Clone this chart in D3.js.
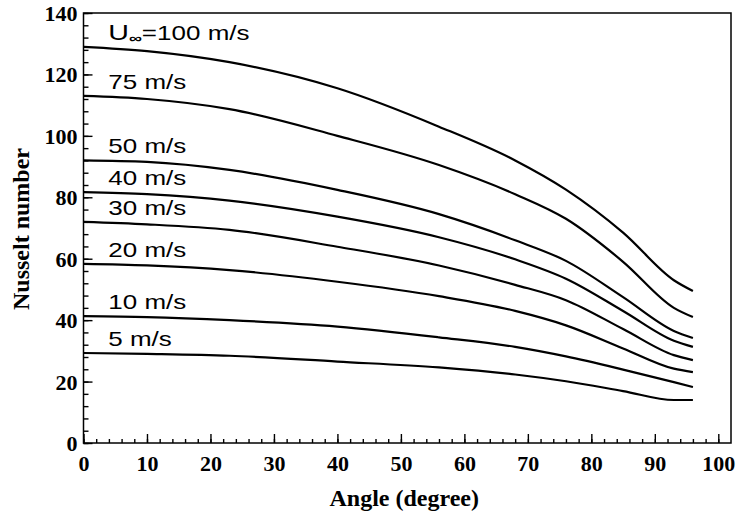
<!DOCTYPE html>
<html>
<head>
<meta charset="utf-8">
<script src="https://cdn.jsdelivr.net/npm/d3@7"></script>
<style>
  body { margin: 0; background: #fff; }
  .tick text { font-family: "Liberation Serif", "Times New Roman", serif; font-weight: bold; font-size: 22px; }
  .curve { fill: none; stroke: #000; stroke-width: 2.2; stroke-linejoin: round; }
  .lbl { font-family: "Liberation Sans", Arial, sans-serif; font-size: 20px; fill: #000; }
  .title { font-family: "Liberation Serif", "Times New Roman", serif; font-weight: bold; font-size: 24px; }
</style>
</head>
<body>
<script>
// angles (degree) where the curves were read
const angles = [0, 10, 23, 40, 56, 68, 76, 85, 93, 96];

// free stream velocity (m/s) for each curve
const speeds = [100, 75, 50, 40, 30, 20, 10, 5];

// Nusselt number, one row per speed
const nu100 = [129, 127.6, 124, 115.5, 103, 92, 82.5, 68.5, 53, 49.5];
const nu75  = [113, 112, 108.7, 100, 90.5, 81, 73, 59, 44, 41];
const nu50  = [92, 91.5, 88.9, 82.4, 74.5, 66, 59.3, 47.5, 36.5, 34.2];
const nu40  = [81.7, 81, 78.9, 73.7, 67, 59.8, 53.5, 43, 33.3, 31.3];
const nu30  = [72, 71.2, 69.4, 63.9, 57.8, 51.5, 46.5, 37.1, 28.6, 27];
const nu20  = [58.3, 57.8, 56.3, 52.5, 47.8, 43, 38.3, 30.8, 24.2, 23.1];
const nu10  = [41.3, 41, 40, 37.9, 34.4, 31.3, 28.2, 23.9, 19.8, 18.2];
const nu5   = [29.3, 29, 28.4, 26.5, 24.6, 22.3, 20.1, 16.9, 14, 14];
const series = [nu100, nu75, nu50, nu40, nu30, nu20, nu10, nu5];

const xTicks = [0, 10, 20, 30, 40, 50, 60, 70, 80, 90, 100];
const yTicks = [0, 20, 40, 60, 80, 100, 120, 140];

const W = 738, H = 523;
const plotL = 83.5, plotR = 731, plotT = 13, plotB = 443;

const x = d3.scaleLinear().domain([0, 102]).range([plotL, plotR]);
const y = d3.scaleLinear().domain([0, 140]).range([plotB, plotT]);

const svg = d3.select("body").append("svg")
    .attr("width", W)
    .attr("height", H);

// frame
svg.append("rect")
    .attr("x", plotL).attr("y", plotT)
    .attr("width", plotR - plotL).attr("height", plotB - plotT)
    .attr("fill", "none").attr("stroke", "#000").attr("stroke-width", 1.5);

// minor ticks, pointing inward
svg.append("g")
    .attr("transform", "translate(0," + plotB + ")")
    .call(d3.axisTop(x).tickValues(d3.range(0, 101, 2)).tickSize(4).tickFormat(""))
    .call(g => g.select(".domain").remove());
svg.append("g")
    .attr("transform", "translate(" + plotL + ",0)")
    .call(d3.axisRight(y).tickValues(d3.range(0, 141, 4)).tickSize(5).tickFormat(""))
    .call(g => g.select(".domain").remove());

// major ticks with labels
let xAxis = svg.append("g")
    .attr("transform", "translate(0," + plotB + ")")
    .call(d3.axisTop(x).tickValues(xTicks).tickSize(9));
xAxis.select(".domain").remove();
xAxis.selectAll("text").attr("y", 12).attr("dy", "0.71em");

let yAxis = svg.append("g")
    .attr("transform", "translate(" + plotL + ",0)")
    .call(d3.axisRight(y).tickValues(yTicks).tickSize(9));
yAxis.select(".domain").remove();
yAxis.selectAll("text").attr("x", -6).attr("text-anchor", "end").attr("dy", "0.34em");

svg.selectAll(".tick line").attr("stroke-width", 1.4);

// curves
let line = d3.line()
    .x((d, i) => x(angles[i]))
    .y(d => y(d))
    .curve(d3.curveMonotoneX);

svg.selectAll(".curve")
    .data(series)
    .enter().append("path")
    .attr("class", "curve")
    .attr("d", line);

// labels sitting just above the start of each curve (the print uses a wide face)
series.forEach(function (vals, i) {
    let t = svg.append("text")
        .attr("class", "lbl")
        .attr("transform", "translate(" + x(3.9) + "," + (y(vals[0]) - 7) + ") scale(1.3,1)");
    if (i == 0) {
        t.append("tspan").attr("font-size", "22px").text("U");
        t.append("tspan").attr("font-size", "14px").attr("dy", "3").attr("font-weight", "bold").text("\u221e");
        t.append("tspan").attr("dy", "-3").text("=" + speeds[i] + " m/s");
    } else {
        t.text(speeds[i] + " m/s");
    }
});

// axis titles
svg.append("text")
    .attr("class", "title")
    .attr("x", (plotL + plotR) / 2 - 3)
    .attr("y", 506)
    .attr("text-anchor", "middle")
    .text("Angle (degree)");

svg.append("text")
    .attr("class", "title")
    .attr("transform", "translate(29," + 229 + ") rotate(-90)")
    .attr("text-anchor", "middle")
    .text("Nusselt number");
</script>
</body>
</html>
